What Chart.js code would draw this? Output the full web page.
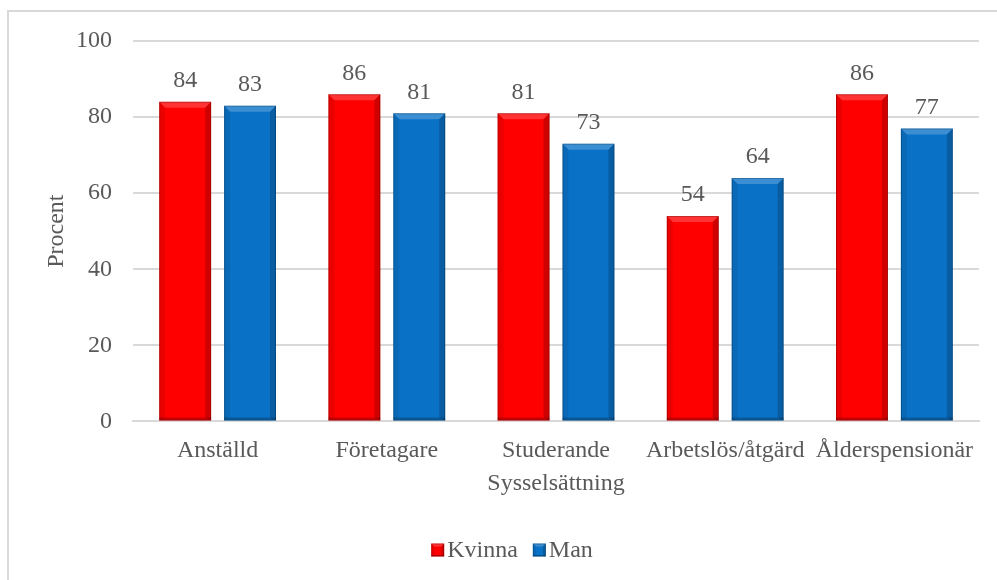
<!DOCTYPE html>
<html>
<head>
<meta charset="utf-8">
<script src="https://cdn.jsdelivr.net/npm/chart.js@4.4.0/dist/chart.umd.min.js"></script>
<style>
  html, body { margin: 0; padding: 0; background: #fff; }
  #wrap { position: absolute; left: 0; top: 0; width: 997px; height: 580px; }
</style>
</head>
<body>
<div id="wrap"><canvas id="myChart" width="997" height="580"></canvas></div>
<script>
const categories = ['Anställd', 'Företagare', 'Studerande', 'Arbetslös/åtgärd', 'Ålderspensionär'];
const kvinna = [84, 86, 81, 54, 86];
const man = [83, 81, 73, 64, 77];
const yTicks = [0, 20, 40, 60, 80, 100];
const yTitle = 'Procent';

const serif = "'Liberation Serif', 'Times New Roman', serif";
const grey = '#595959';
const txt = { family: serif, size: 24 };
Chart.defaults.font.family = serif;
Chart.defaults.font.size = 24;
Chart.defaults.color = grey;

// outer frame around the whole chart
const frame = {
    id: 'frame',
    beforeDraw(chart) {
        const c = chart.ctx;
        c.save();
        c.strokeStyle = '#d9d9d9';
        c.lineWidth = 2;
        c.strokeRect(8, 11, 996, 580);
        c.restore();
    }
};

// draws the bevel on a rectangle
function bevelRect(c, l, t, w, h, e) {
    const r = l + w, b = t + h;
    c.fillStyle = 'rgba(255,255,255,0.2)';
    c.beginPath();
    c.moveTo(l, t); c.lineTo(r, t); c.lineTo(r - e, t + e); c.lineTo(l + e, t + e);
    c.closePath(); c.fill();
    c.fillStyle = 'rgba(0,0,0,0.08)';
    c.beginPath();
    c.moveTo(l, t); c.lineTo(l + e, t + e); c.lineTo(l + e, b - e / 2); c.lineTo(l, b);
    c.closePath(); c.fill();
    c.fillStyle = 'rgba(0,0,0,0.18)';
    c.beginPath();
    c.moveTo(r, t); c.lineTo(r - e, t + e); c.lineTo(r - e, b - e / 2); c.lineTo(r, b);
    c.closePath(); c.fill();
    c.fillStyle = 'rgba(0,0,0,0.2)';
    c.fillRect(l, b - e / 2, w, e / 2);
    c.strokeStyle = 'rgba(0,0,0,0.22)';
    c.lineWidth = 1;
    c.strokeRect(l + 0.5, t + 0.5, w - 1, h - 1);
}

// bevelled bars plus value labels above them
const bevel = {
    id: 'bevel',
    afterDatasetsDraw(chart) {
        const c = chart.ctx;
        chart.data.datasets.forEach((ds, di) => {
            chart.getDatasetMeta(di).data.forEach((bar, i) => {
                const w = bar.width, l = bar.x - w / 2;
                c.save();
                bevelRect(c, l, bar.y, w, bar.base - bar.y, 6);
                c.fillStyle = grey;
                c.font = '24px ' + serif;
                c.textAlign = 'center';
                c.textBaseline = 'bottom';
                c.fillText(ds.data[i], bar.x, bar.y - 9);
                c.restore();
            });
        });
    }
};

// rotated y axis title and a tight legend row under the chart
const extras = {
    id: 'extras',
    afterDraw(chart) {
        const c = chart.ctx;
        const area = chart.chartArea;
        c.save();
        c.font = '24px ' + serif;
        c.fillStyle = grey;
        c.translate(57, (area.top + area.bottom) / 2);
        c.rotate(-Math.PI / 2);
        c.textAlign = 'center';
        c.textBaseline = 'middle';
        c.fillText(yTitle, 0, 0);
        c.restore();

        const sets = chart.data.datasets;
        c.save();
        c.font = '24px ' + serif;
        const box = 13, gap = 3, space = 15;
        const widths = sets.map(ds => box + gap + c.measureText(ds.label).width);
        const total = widths.reduce((a, b) => a + b, 0) + space * (sets.length - 1);
        let x = 512 - total / 2;
        const y = 550;
        sets.forEach((ds, i) => {
            c.fillStyle = ds.backgroundColor;
            c.fillRect(x, y - box / 2, box, box);
            bevelRect(c, x, y - box / 2, box, box, 3);
            c.fillStyle = grey;
            c.textAlign = 'left';
            c.textBaseline = 'middle';
            c.fillText(ds.label, x + box + gap, y + 1);
            x += widths[i] + space;
        });
        c.restore();
    }
};

const ctx = document.getElementById('myChart').getContext('2d');
const myChart = new Chart(ctx, {
    type: 'bar',
    data: {
        labels: categories,
        datasets: [{
            label: 'Kvinna',
            data: kvinna,
            backgroundColor: '#ff0000',
            borderWidth: 0,
            categoryPercentage: 0.767,
            barPercentage: 0.8
        }, {
            label: 'Man',
            data: man,
            backgroundColor: '#0a72c6',
            borderWidth: 0,
            categoryPercentage: 0.767,
            barPercentage: 0.8
        }]
    },
    options: {
        responsive: false,
        animation: false,
        layout: { padding: { left: 63, right: 18, top: 41, bottom: 8 } },
        plugins: {
            legend: { display: false },
            tooltip: { enabled: false }
        },
        scales: {
            x: {
                afterFit(axis) { axis.paddingLeft = 0; axis.paddingRight = 0; },
                grid: { display: false },
                border: { color: '#d9d9d9', width: 2 },
                ticks: { color: grey, padding: 7, font: txt },
                title: { display: true, text: 'Sysselsättning', color: grey, font: txt, padding: { top: -3, bottom: 74 } }
            },
            y: {
                min: 0,
                max: 100,
                afterBuildTicks(axis) { axis.ticks = yTicks.map(v => ({ value: v })); },
                afterFit(axis) { axis.width = 70; },
                grid: { color: '#d9d9d9', lineWidth: 2, drawTicks: false },
                border: { display: false },
                ticks: { color: grey, padding: 21, font: txt }
            }
        }
    },
    plugins: [frame, bevel, extras]
});
</script>
</body>
</html>
